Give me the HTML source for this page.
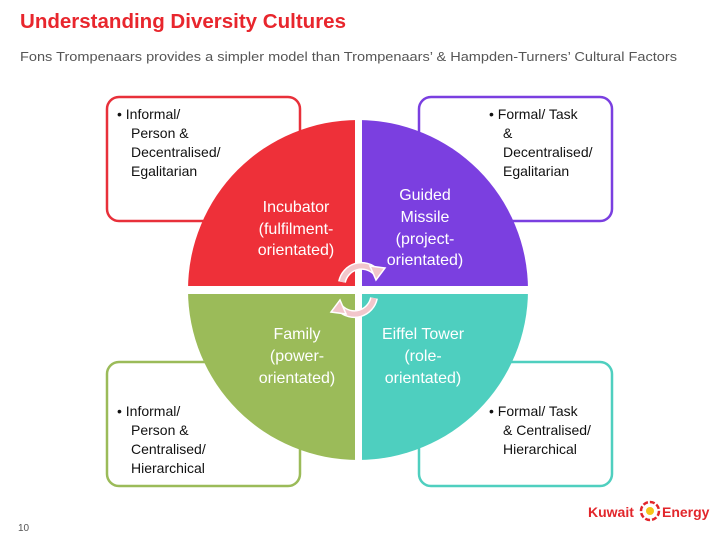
<!DOCTYPE html>
<html><head><meta charset="utf-8"><style>
body{margin:0;background:#fff;width:720px;height:540px;overflow:hidden;font-family:"Liberation Sans",sans-serif}
svg{position:absolute;left:0;top:0}
</style></head><body>
<svg width="720" height="540" viewBox="0 0 720 540" font-family="Liberation Sans, sans-serif">
<text x="20" y="28" font-size="20" font-weight="bold" fill="#e8262d" textLength="326" lengthAdjust="spacingAndGlyphs">Understanding Diversity Cultures</text>
<text x="20" y="61" font-size="13" fill="#555" textLength="657" lengthAdjust="spacingAndGlyphs">Fons Trompenaars provides a simpler model than Trompenaars’ &amp; Hampden-Turners’ Cultural Factors</text>
<rect x="107" y="97" width="193" height="124" rx="12" fill="#fff" stroke="#e8303a" stroke-width="2.5"/>
<rect x="419" y="97" width="193" height="124" rx="12" fill="#fff" stroke="#7a3fe0" stroke-width="2.5"/>
<rect x="107" y="362" width="193" height="124" rx="12" fill="#fff" stroke="#9bbb59" stroke-width="2.5"/>
<rect x="419" y="362" width="193" height="124" rx="12" fill="#fff" stroke="#4fcfbf" stroke-width="2.5"/>
<defs>
<clipPath id="tl"><rect x="0" y="0" width="358" height="290"/></clipPath>
<clipPath id="tr"><rect x="358" y="0" width="362" height="290"/></clipPath>
<clipPath id="bl"><rect x="0" y="290" width="358" height="250"/></clipPath>
<clipPath id="br"><rect x="358" y="290" width="362" height="250"/></clipPath>
</defs>
<circle cx="358" cy="290" r="170" fill="#ee3039" clip-path="url(#tl)"/>
<circle cx="358" cy="290" r="170" fill="#7b3fe0" clip-path="url(#tr)"/>
<circle cx="358" cy="290" r="170" fill="#9bbb59" clip-path="url(#bl)"/>
<circle cx="358" cy="290" r="170" fill="#4ecfbf" clip-path="url(#br)"/>
<rect x="355" y="110" width="7" height="360" fill="#fff"/>
<rect x="180" y="286" width="360" height="8" fill="#fff"/>
<g font-size="14" fill="#111">
<text x="117" y="119">• Informal/</text><text x="131" y="138">Person &amp;</text><text x="131" y="157">Decentralised/</text><text x="131" y="176">Egalitarian</text>
<text x="489" y="119">• Formal/ Task</text><text x="503" y="138">&amp;</text><text x="503" y="157">Decentralised/</text><text x="503" y="176">Egalitarian</text>
<text x="117" y="416">• Informal/</text><text x="131" y="435">Person &amp;</text><text x="131" y="454">Centralised/</text><text x="131" y="473">Hierarchical</text>
<text x="489" y="416">• Formal/ Task</text><text x="503" y="435">&amp; Centralised/</text><text x="503" y="454">Hierarchical</text>
</g>
<g font-size="16" fill="#fff" text-anchor="middle">
<text x="296" y="212">Incubator</text><text x="296" y="234">(fulfilment-</text><text x="296" y="255">orientated)</text>
<text x="425" y="200">Guided</text><text x="425" y="222">Missile</text><text x="425" y="244">(project-</text><text x="425" y="265">orientated)</text>
<text x="297" y="339">Family</text><text x="297" y="361">(power-</text><text x="297" y="383">orientated)</text>
<text x="423" y="339">Eiffel Tower</text><text x="423" y="361">(role-</text><text x="423" y="383">orientated)</text>
</g>
<g fill="none" stroke-linecap="butt">
<path d="M342 282 A20 20 0 0 1 376 272" stroke="#fff" stroke-width="8"/>
<path d="M342 282 A20 20 0 0 1 376 272" stroke="#f2c6cb" stroke-width="5"/>
<path d="M374 298 A20 20 0 0 1 340 308" stroke="#fff" stroke-width="8"/>
<path d="M374 298 A20 20 0 0 1 340 308" stroke="#f2c6cb" stroke-width="5"/>
</g>
<polygon points="370,266 385,268 376,280" fill="#f2c6cb" stroke="#fff" stroke-width="1.5"/>
<polygon points="346,314 331,312 340,300" fill="#f2c6cb" stroke="#fff" stroke-width="1.5"/>
<text x="18" y="531" font-size="10" fill="#555">10</text>
<text x="588" y="517" font-size="14" font-weight="bold" fill="#e2262b">Kuwait</text>
<circle cx="650" cy="511" r="9" fill="none" stroke="#e2262b" stroke-width="2.5" stroke-dasharray="5 2"/>
<circle cx="650" cy="511" r="4" fill="#f5c518"/>
<text x="662" y="517" font-size="14" font-weight="bold" fill="#e2262b">Energy</text>
</svg>
</body></html>
